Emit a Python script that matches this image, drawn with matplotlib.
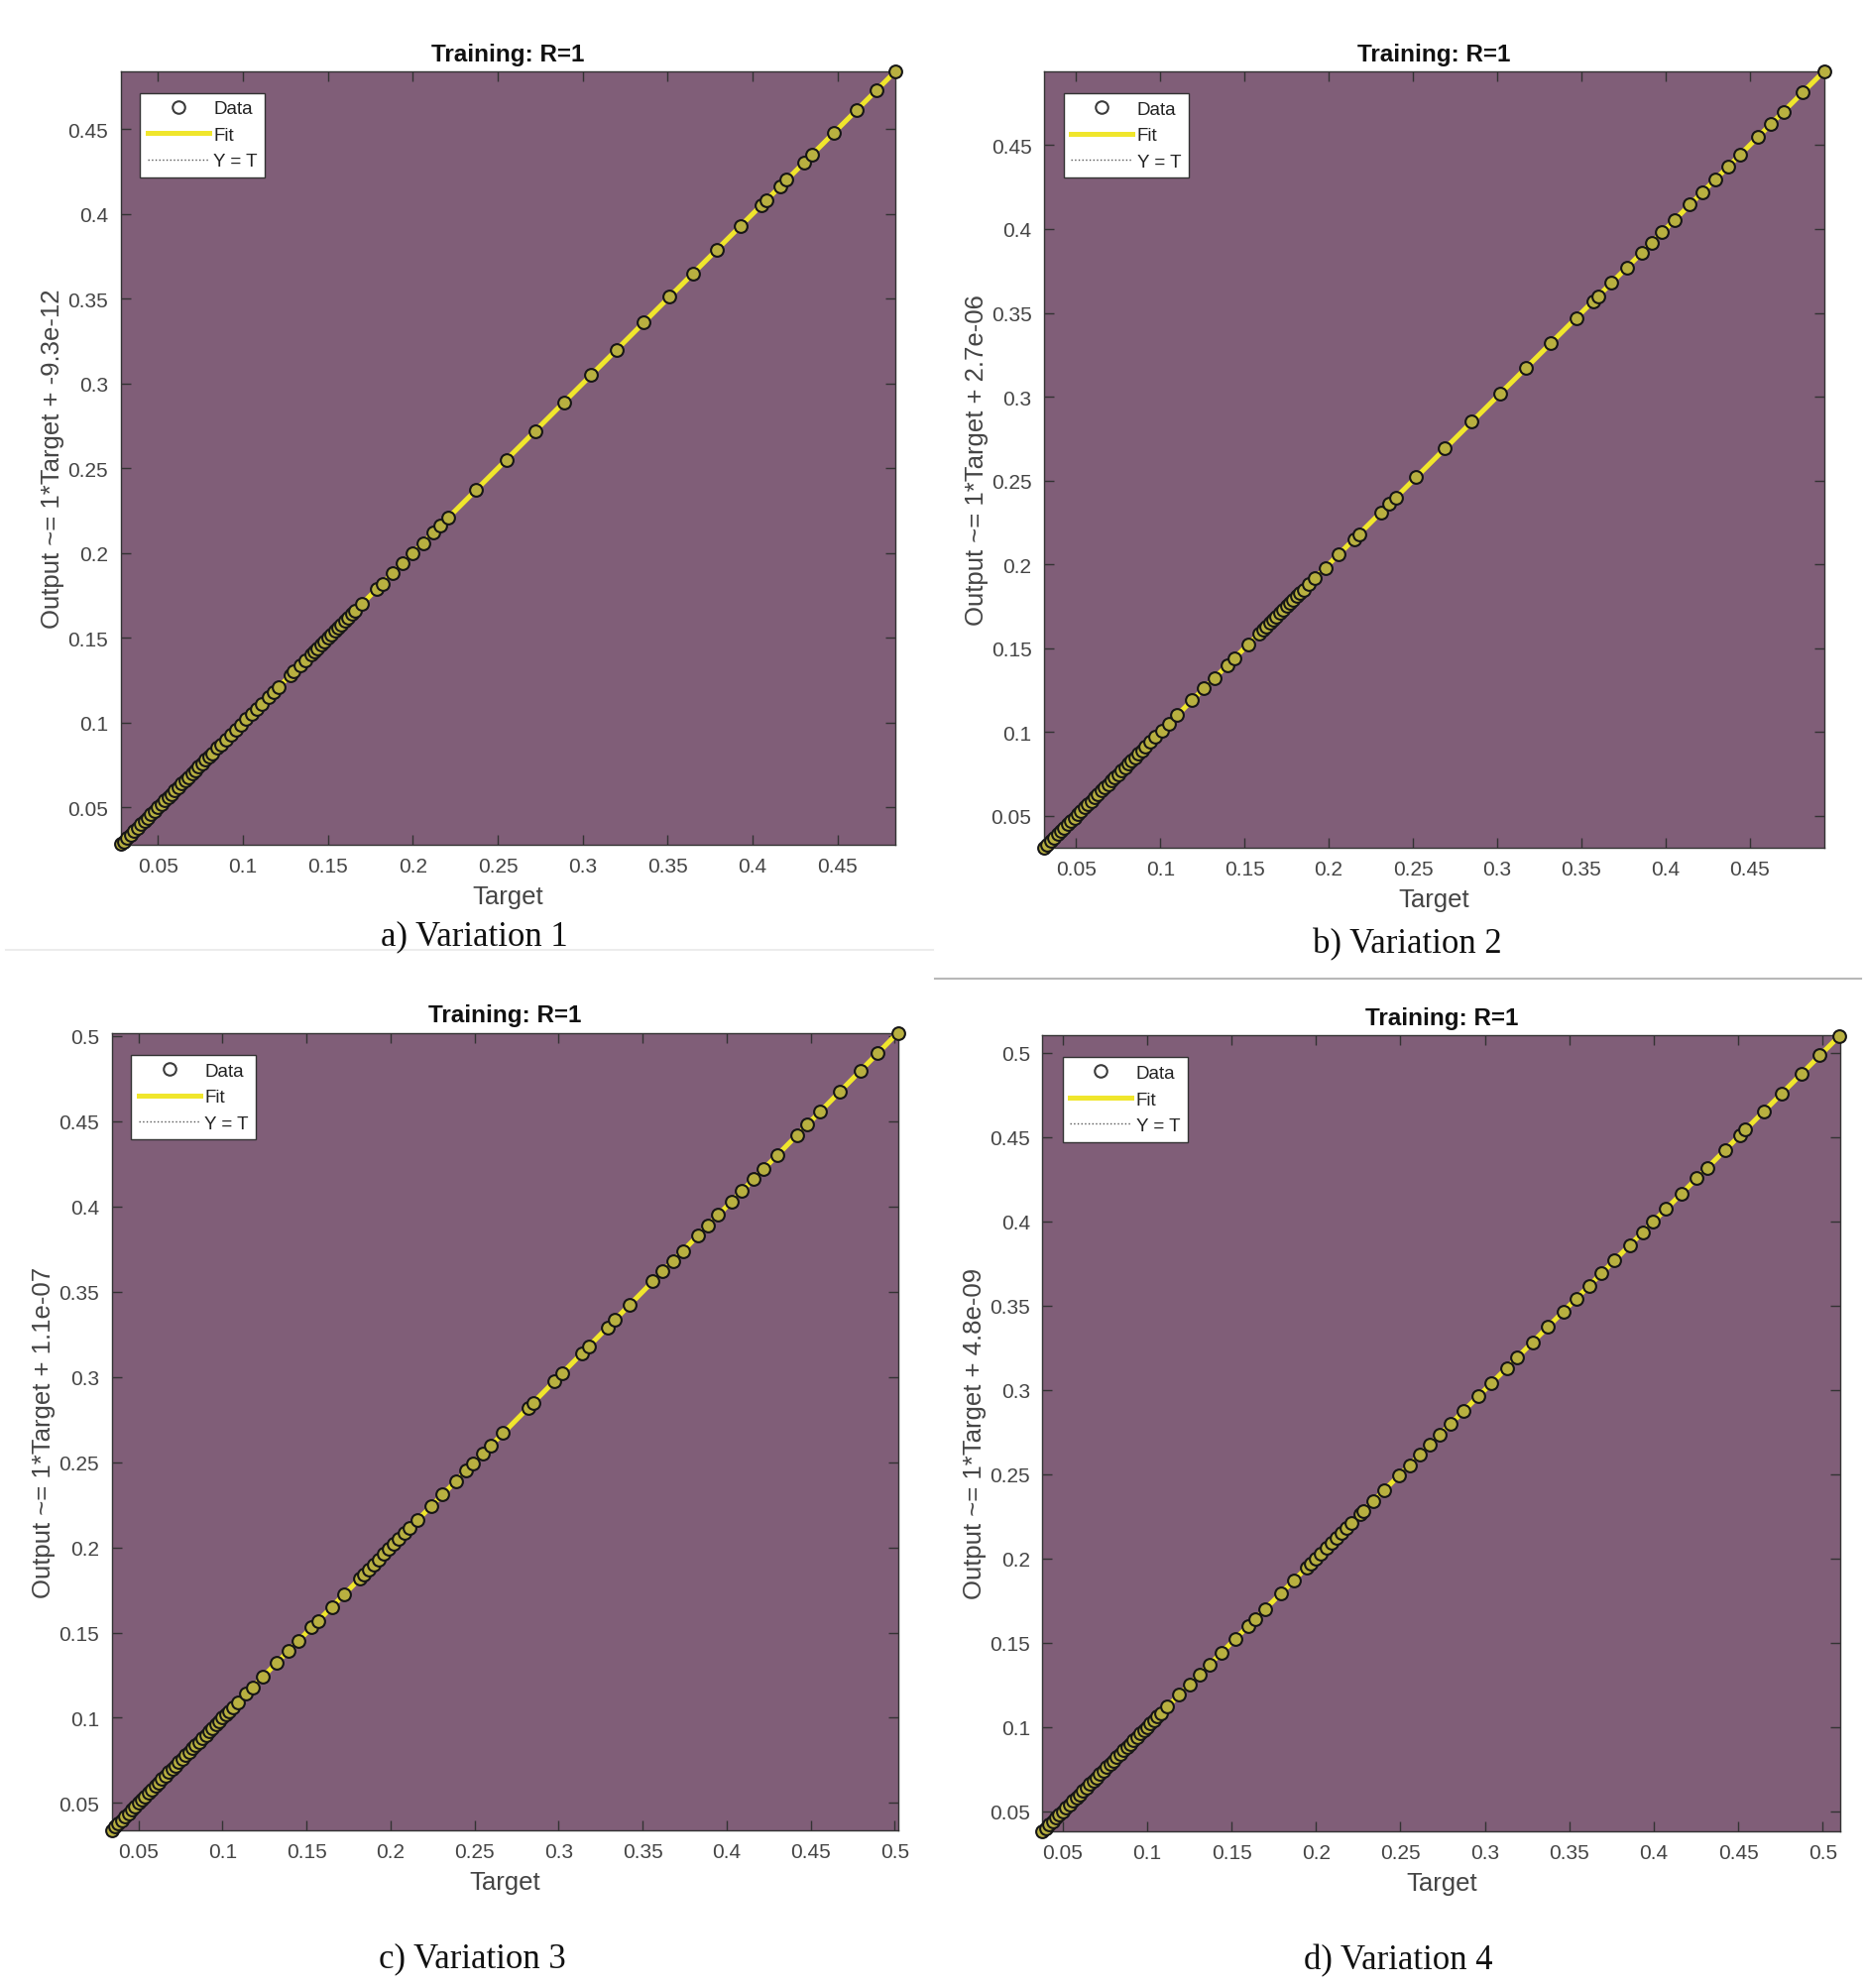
import matplotlib
matplotlib.use("Agg")
import matplotlib.pyplot as plt
from matplotlib.lines import Line2D
from matplotlib.ticker import FormatStrFormatter, MultipleLocator

plt.rcParams['font.family'] = ['Liberation Sans', 'DejaVu Sans']

# target values (output == target, R = 1)
target_a = [0.0285, 0.030, 0.032, 0.034, 0.036, 0.038, 0.040, 0.042, 0.044, 0.046,
            0.048, 0.050, 0.052, 0.054, 0.056, 0.058, 0.060, 0.062, 0.064, 0.066,
            0.068, 0.070, 0.072, 0.074, 0.076, 0.078, 0.080, 0.082, 0.085, 0.087,
            0.090, 0.093, 0.096, 0.099, 0.102, 0.105, 0.108, 0.111, 0.115, 0.118,
            0.121, 0.128, 0.130, 0.134, 0.137, 0.140, 0.142, 0.144, 0.146, 0.148,
            0.150, 0.152, 0.154, 0.156, 0.158, 0.160, 0.162, 0.164, 0.166,
            0.170, 0.179, 0.182, 0.188, 0.194, 0.200, 0.206, 0.212, 0.216, 0.221,
            0.237, 0.255, 0.272, 0.289, 0.305, 0.320, 0.336, 0.351, 0.365, 0.379,
            0.393, 0.405, 0.408, 0.416, 0.420, 0.430, 0.435, 0.448, 0.461, 0.473,
            0.484]
target_b = [0.031, 0.033, 0.035, 0.037, 0.039, 0.041, 0.043, 0.045, 0.047, 0.049,
            0.051, 0.053, 0.055, 0.057, 0.059, 0.061, 0.063, 0.065, 0.067, 0.069,
            0.071, 0.073, 0.075, 0.077, 0.079, 0.081, 0.083, 0.085, 0.087, 0.089,
            0.091, 0.094, 0.097, 0.101, 0.105, 0.110, 0.119, 0.126, 0.132, 0.140,
            0.144, 0.152, 0.159, 0.161, 0.163, 0.165, 0.167, 0.169, 0.171, 0.173,
            0.175, 0.177, 0.179, 0.181, 0.183, 0.185, 0.188, 0.192, 0.198, 0.206,
            0.215, 0.218, 0.231, 0.236, 0.240, 0.252, 0.269, 0.285, 0.302, 0.317,
            0.332, 0.347, 0.357, 0.360, 0.368, 0.377, 0.386, 0.392, 0.398, 0.4055,
            0.4145, 0.422, 0.4295, 0.437, 0.4445, 0.455, 0.4625, 0.470, 0.4815, 0.494]
target_c = [0.034, 0.036, 0.038, 0.040, 0.042, 0.044, 0.046, 0.048, 0.050, 0.052,
            0.054, 0.056, 0.058, 0.060, 0.062, 0.064, 0.066, 0.068, 0.070, 0.072,
            0.074, 0.076, 0.078, 0.080, 0.082, 0.084, 0.086, 0.088, 0.090, 0.092,
            0.094, 0.096, 0.098, 0.100, 0.102, 0.104, 0.106, 0.109, 0.114, 0.118,
            0.124, 0.132, 0.139, 0.145, 0.153, 0.157, 0.165, 0.1725, 0.1815, 0.184,
            0.187, 0.190, 0.193, 0.196, 0.199, 0.202, 0.205, 0.2085, 0.2115, 0.216,
            0.224, 0.231, 0.239, 0.245, 0.249, 0.255, 0.2595, 0.267, 0.282, 0.285,
            0.2975, 0.302, 0.314, 0.318, 0.329, 0.3335, 0.3425, 0.356, 0.362, 0.368,
            0.374, 0.383, 0.389, 0.395, 0.403, 0.409, 0.416, 0.422, 0.430, 0.442,
            0.448, 0.4555, 0.4675, 0.4795, 0.490, 0.502]
target_d = [0.038, 0.040, 0.042, 0.044, 0.046, 0.048, 0.050, 0.052, 0.054, 0.056,
            0.058, 0.060, 0.062, 0.064, 0.066, 0.068, 0.070, 0.072, 0.074, 0.076,
            0.078, 0.080, 0.082, 0.084, 0.086, 0.088, 0.090, 0.092, 0.094, 0.096,
            0.098, 0.100, 0.102, 0.104, 0.106, 0.108, 0.112, 0.119, 0.125, 0.131,
            0.137, 0.144, 0.152, 0.160, 0.164, 0.170, 0.179, 0.187, 0.1945, 0.197,
            0.200, 0.203, 0.206, 0.209, 0.212, 0.215, 0.218, 0.221, 0.2264, 0.2279,
            0.234, 0.2401, 0.2492, 0.2553, 0.2614, 0.2674, 0.2735, 0.2796, 0.2872,
            0.2963, 0.3039, 0.3130, 0.3191, 0.3282, 0.3373, 0.3465, 0.3541, 0.3616,
            0.3692, 0.3768, 0.3860, 0.3936, 0.3996, 0.4072, 0.4164, 0.4255, 0.4315,
            0.4422, 0.4513, 0.4543, 0.465, 0.4756, 0.4878, 0.4984, 0.510]

ylabels = ["Output ~= 1*Target + -9.3e-12", "Output ~= 1*Target + 2.7e-06",
           "Output ~= 1*Target + 1.1e-07", "Output ~= 1*Target + 4.8e-09"]
captions = ["a) Variation 1", "b) Variation 2", "c) Variation 3", "d) Variation 4"]
limits = [(0.028, 0.484), (0.031, 0.494), (0.034, 0.502), (0.038, 0.5105)]
targets = [target_a, target_b, target_c, target_d]

# axes boxes in figure fractions [left, bottom, width, height]
boxes = [[0.0646, 0.5748, 0.4150, 0.3888],
         [0.5592, 0.5733, 0.4177, 0.3903],
         [0.0598, 0.0793, 0.4212, 0.4010],
         [0.5584, 0.0788, 0.4273, 0.4003]]
caption_xy = [(0.254, 0.529), (0.754, 0.525), (0.253, 0.015), (0.749, 0.014)]

bg = '#805e78'
fit_col = '#f0e62c'
txt_col = '#444444'

fig = plt.figure(figsize=(18.83, 20.06), dpi=100)

for i in range(4):
    ax = fig.add_axes(boxes[i])
    t = targets[i]
    lo, hi = limits[i]
    ax.set_facecolor(bg)

    ax.plot([lo, hi], [lo, hi], linestyle=':', color='#222222', lw=1.0, zorder=1)
    ax.plot([min(t), max(t)], [min(t), max(t)], color=fit_col, lw=3.6, zorder=2)
    ax.plot(t, t, linestyle='none', marker='o', markersize=9.2, mfc='#b8b040',
            mec='#161616', mew=1.5, zorder=3, clip_on=False)

    ax.set_xlim(lo, hi)
    ax.set_ylim(lo, hi)
    ax.xaxis.set_major_locator(MultipleLocator(0.05))
    ax.yaxis.set_major_locator(MultipleLocator(0.05))
    ax.xaxis.set_major_formatter(FormatStrFormatter('%g'))
    ax.yaxis.set_major_formatter(FormatStrFormatter('%g'))
    ax.tick_params(direction='in', length=7, width=1, top=True, right=True,
                   labelsize=15, labelcolor=txt_col, color='#333333', pad=9)
    for s in ax.spines.values():
        s.set_color('#333333')
        s.set_linewidth(1)

    ax.set_title("Training: R=1", fontsize=17.5, fontweight='bold', color='#111111', pad=8)
    ax.set_xlabel("Target", fontsize=18.5, color=txt_col, labelpad=6)
    ax.set_ylabel(ylabels[i], fontsize=18.5, color=txt_col, labelpad=2)

    # legend proxies styled like the MATLAB legend entries
    handles = [Line2D([], [], linestyle='none', marker='o', markersize=9, mfc='none',
                      mec='#3a3a3a', mew=1.5),
               Line2D([], [], color=fit_col, lw=3.6),
               Line2D([], [], color='#555555', lw=1.0, linestyle=':')]
    leg = ax.legend(handles, ['Data', 'Fit', 'Y = T'], loc='upper left',
                    bbox_to_anchor=(0.025, 0.972), borderaxespad=0, fontsize=13.5,
                    fancybox=False, framealpha=1, edgecolor='#333333',
                    handlelength=3.3, handletextpad=0.25, labelspacing=0.5,
                    borderpad=0.4, numpoints=1)
    leg.get_frame().set_linewidth(1)
    for txt in leg.get_texts():
        txt.set_color('#222222')

    fig.text(caption_xy[i][0], caption_xy[i][1], captions[i], family='Liberation Serif',
             fontsize=25, ha='center', va='center', color='#111111')

# faint separators from the composite layout
fig.add_artist(Line2D([0.003, 0.500], [1 - 959 / 2006, 1 - 959 / 2006],
                      transform=fig.transFigure, color='#ececec', lw=1.5))
fig.add_artist(Line2D([0.501, 0.997], [1 - 988 / 2006, 1 - 988 / 2006],
                      transform=fig.transFigure, color='#b8b8b8', lw=1.5))

fig.savefig("out.png", dpi=100)
